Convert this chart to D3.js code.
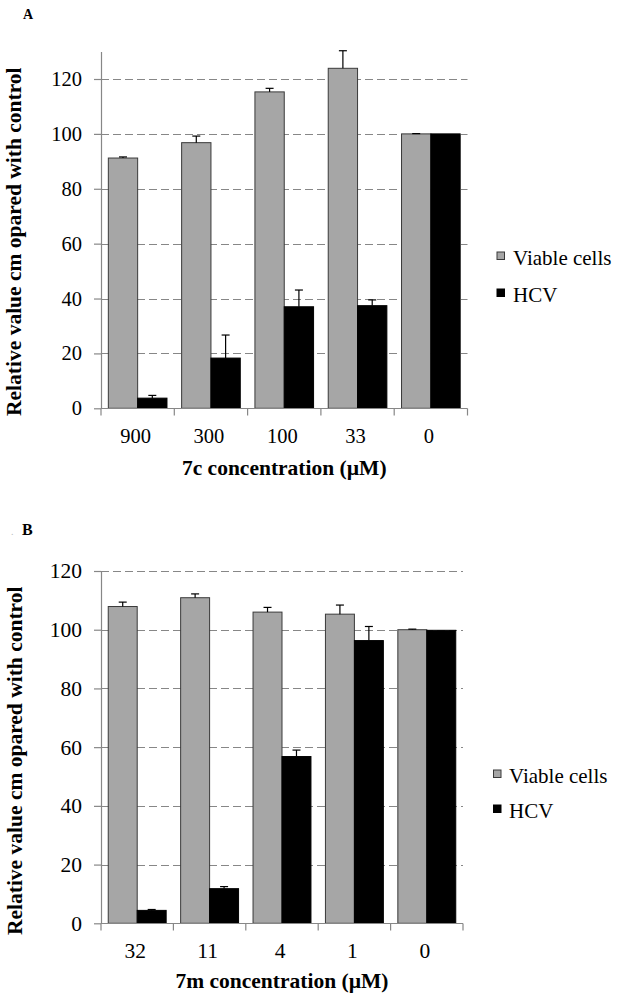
<!DOCTYPE html>
<html>
<head>
<meta charset="utf-8">
<script src="https://cdn.jsdelivr.net/npm/d3@7"></script>
<style>
  body { margin: 0; background: #fff; }
  svg { display: block; }
  text { font-family: "Liberation Serif", "Times New Roman", Times, serif; }
</style>
</head>
<body>
<svg id="chart" width="623" height="999"></svg>
<script>
// ---------- data ----------
const seriesNames = ["Viable cells", "HCV"];

const catsA = ["900", "300", "100", "33", "0"];
const viableA = [91.2, 96.8, 115.3, 123.9, 100];
const viableErrA = [0.4, 2.4, 1.3, 6.4, 0.1];
const hcvA = [3.7, 18.3, 37.0, 37.4, 100];
const hcvErrA = [1.0, 8.4, 6.1, 2.1, 0];

const catsB = ["32", "11", "4", "1", "0"];
const viableB = [107.9, 110.9, 106.0, 105.3, 100];
const viableErrB = [1.5, 1.3, 1.6, 3.1, 0.2];
const hcvB = [4.4, 11.8, 56.8, 96.3, 99.8];
const hcvErrB = [0.3, 0.7, 2.2, 4.8, 0];

const yTicksA = [0, 20, 40, 60, 80, 100, 120];
const yTicksB = [0, 20, 40, 60, 80, 100, 120];

const yTitle = "Relative value cm opared with control";
const xTitleA = "7c concentration (\u00b5M)";
const xTitleB = "7m concentration (\u00b5M)";

// ---------- layout ----------
const layoutA = {
  label: "A", labelX: 23, labelY: 18.5, labelSize: 14,
  left: 101, right: 467.5, bottom: 408.3, top120: 79, yMax: 130,
  tickSize: 20.5, xLabelY: 443, xTitleY: 474.5, titleSize: 21.5,
  yTitleX: 20.5, yTitleCY: 241.7,
  legX: 497, legTextX: 513, legY: [265, 302], legSq: 7.5
};
const layoutB = {
  label: "B", labelX: 22, labelY: 535, labelSize: 16,
  left: 101, right: 463, bottom: 923.3, top120: 571, yMax: 120,
  tickSize: 21.5, xLabelY: 958, xTitleY: 987.5, titleSize: 21.5,
  yTitleX: 21.5, yTitleCY: 760.8,
  legX: 493.5, legTextX: 509, legY: [783, 818], legSq: 7.5
};

const svg = d3.select("#chart");
const GRID = "#878787";
const GRAY = "#a6a6a6";

function drawPanel(L, cats, viable, viableErr, hcv, hcvErr, ticks, xTitle) {
  const g = svg.append("g");

  const x0 = d3.scaleBand().domain(cats).range([L.left, L.right])
    .paddingInner(0.2).paddingOuter(0.1);
  const x1 = d3.scaleBand().domain(seriesNames).range([0, x0.bandwidth()]);
  const ppu = (L.bottom - L.top120) / 120;
  const y = d3.scaleLinear().domain([0, L.yMax])
    .range([L.bottom, L.bottom - ppu * L.yMax]);

  // panel label
  g.append("text").attr("x", L.labelX).attr("y", L.labelY)
    .attr("font-weight", "bold").attr("font-size", L.labelSize).text(L.label);

  // gridlines
  g.selectAll("line.grid").data(ticks.filter(t => t > 0)).join("line")
    .attr("class", "grid")
    .attr("x1", L.left).attr("x2", L.right)
    .attr("y1", d => Math.round(y(d)) + 0.5).attr("y2", d => Math.round(y(d)) + 0.5)
    .attr("stroke", GRID).attr("stroke-width", 1.2)
    .attr("stroke-dasharray", "8,4");

  // y axis
  const yAxis = d3.axisLeft(y).tickValues(ticks).tickSize(7).tickSizeOuter(0).tickPadding(12);
  const ya = g.append("g").attr("transform", `translate(${L.left},0)`).call(yAxis);
  ya.attr("font-family", null).attr("font-size", null);
  ya.select(".domain").attr("stroke", GRID).attr("stroke-width", 1.2);
  ya.selectAll(".tick line").attr("stroke", GRID).attr("stroke-width", 1.2);
  ya.selectAll(".tick text").attr("font-size", L.tickSize).attr("fill", "#000");

  // bars
  const rows = cats.map((c, i) => ({
    cat: c,
    vals: [
      { s: seriesNames[0], v: viable[i], e: viableErr[i] },
      { s: seriesNames[1], v: hcv[i], e: hcvErr[i] }
    ]
  }));
  const grp = g.selectAll("g.cat").data(rows).join("g").attr("class", "cat")
    .attr("transform", d => `translate(${x0(d.cat)},0)`);
  grp.selectAll("rect").data(d => d.vals).join("rect")
    .attr("x", d => x1(d.s)).attr("width", x1.bandwidth())
    .attr("y", d => y(d.v)).attr("height", d => y(0) - y(d.v))
    .attr("fill", d => d.s === seriesNames[0] ? GRAY : "#000")
    .attr("stroke", d => d.s === seriesNames[0] ? "#3a3a3a" : "#000")
    .attr("stroke-width", 1);

  // error bars
  const eb = grp.selectAll("g.err").data(d => d.vals.filter(v => v.e > 0)).join("g").attr("class", "err");
  eb.append("line")
    .attr("x1", d => x1(d.s) + x1.bandwidth() / 2).attr("x2", d => x1(d.s) + x1.bandwidth() / 2)
    .attr("y1", d => y(d.v)).attr("y2", d => y(d.v + d.e))
    .attr("stroke", "#000").attr("stroke-width", 1.2);
  eb.append("line")
    .attr("x1", d => x1(d.s) + x1.bandwidth() / 2 - 4).attr("x2", d => x1(d.s) + x1.bandwidth() / 2 + 4)
    .attr("y1", d => y(d.v + d.e)).attr("y2", d => y(d.v + d.e))
    .attr("stroke", "#000").attr("stroke-width", 1.2);

  // x axis line and boundary ticks
  const y0 = Math.round(y(0)) + 0.5;
  g.append("line").attr("x1", L.left).attr("x2", L.right).attr("y1", y0).attr("y2", y0)
    .attr("stroke", GRID).attr("stroke-width", 1.2);
  const bounds = d3.range(cats.length + 1).map(i => L.left + i * x0.step());
  g.selectAll("line.xtick").data(bounds).join("line").attr("class", "xtick")
    .attr("x1", d => d).attr("x2", d => d).attr("y1", y0).attr("y2", y0 + 7)
    .attr("stroke", GRID).attr("stroke-width", 1.2);
  g.selectAll("text.xlab").data(cats).join("text").attr("class", "xlab")
    .attr("x", d => x0(d) + x0.bandwidth() / 2 - 2).attr("y", L.xLabelY)
    .attr("text-anchor", "middle").attr("font-size", L.tickSize).text(d => d);

  // axis titles
  g.append("text").attr("x", (L.left + L.right) / 2).attr("y", L.xTitleY)
    .attr("text-anchor", "middle").attr("font-weight", "bold")
    .attr("font-size", L.titleSize).text(xTitle);
  g.append("text")
    .attr("transform", `translate(${L.yTitleX},${L.yTitleCY}) rotate(-90)`)
    .attr("text-anchor", "middle").attr("font-weight", "bold")
    .attr("font-size", L.titleSize).text(yTitle);

  // legend
  const leg = g.selectAll("g.leg").data(seriesNames).join("g").attr("class", "leg");
  leg.append("rect")
    .attr("x", L.legX).attr("y", (d, i) => L.legY[i] - 13)
    .attr("width", L.legSq).attr("height", L.legSq)
    .attr("fill", (d, i) => i === 0 ? GRAY : "#000")
    .attr("stroke", (d, i) => i === 0 ? "#3a3a3a" : "#000").attr("stroke-width", 1);
  leg.append("text").attr("x", L.legTextX).attr("y", (d, i) => L.legY[i])
    .attr("font-size", 21).text(d => d);
}

drawPanel(layoutA, catsA, viableA, viableErrA, hcvA, hcvErrA, yTicksA, xTitleA);
drawPanel(layoutB, catsB, viableB, viableErrB, hcvB, hcvErrB, yTicksB, xTitleB);

// small speck before the "B" label
svg.append("text").attr("x", 11).attr("y", 535).attr("font-size", 10)
  .attr("fill", "#bbb").text(".");
</script>
</body>
</html>
